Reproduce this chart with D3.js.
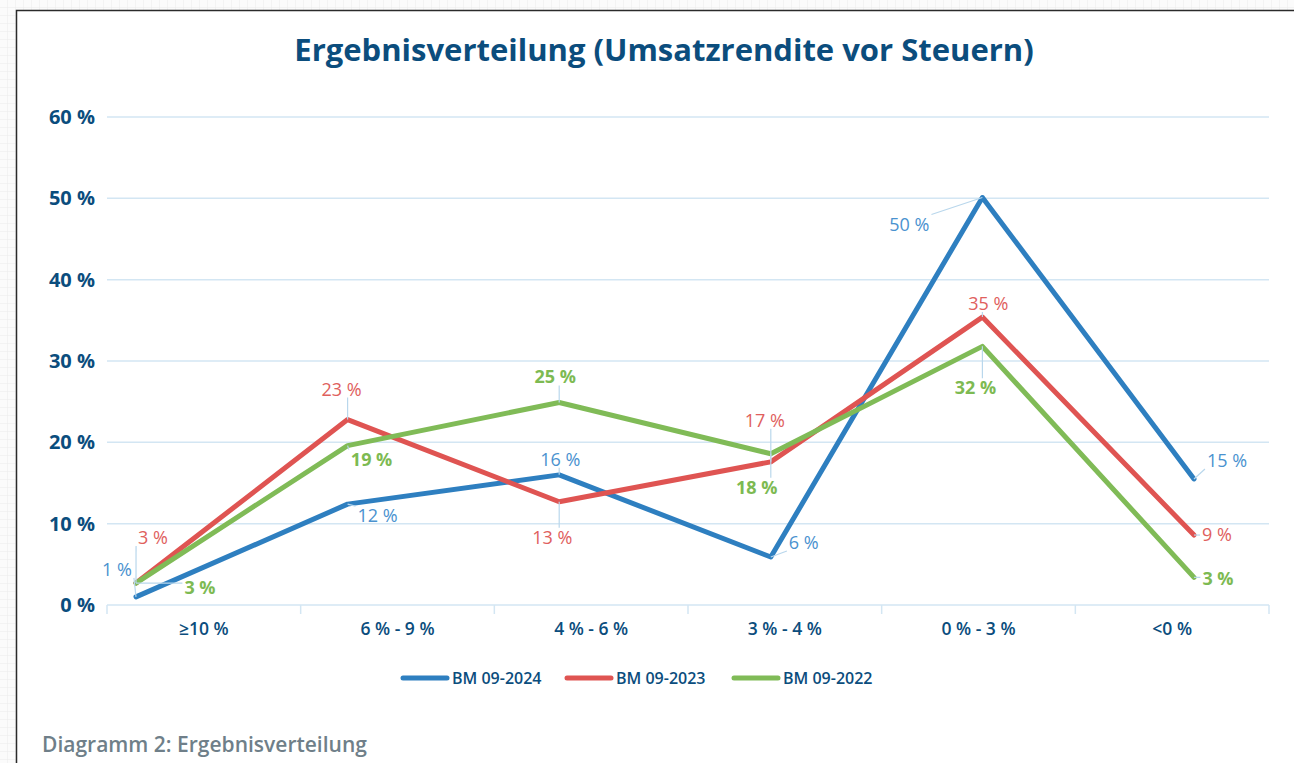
<!DOCTYPE html>
<html>
<head>
<meta charset="utf-8">
<script src="https://cdn.jsdelivr.net/npm/d3@7"></script>
<style>
  html, body { margin: 0; padding: 0; overflow: hidden; }
  body { width: 1294px; height: 763px; font-family: "Open Sans", sans-serif; }
</style>
</head>
<body>
<div id="chart"></div>
<script>
// Daten
const categories = ["≥10 %", "6 % - 9 %", "4 % - 6 %", "3 % - 4 %", "0 % - 3 %", "<0 %"];
const seriesNames = ["BM 09-2024", "BM 09-2023", "BM 09-2022"];
const bm2024 = [1.0, 12.4, 16.0, 5.9, 50.1, 15.5];
const bm2023 = [2.7, 22.8, 12.7, 17.6, 35.4, 8.6];
const bm2022 = [2.7, 19.6, 24.9, 18.6, 31.8, 3.4];
const labels2024 = ["1 %", "12 %", "16 %", "6 %", "50 %", "15 %"];
const labels2023 = ["3 %", "23 %", "13 %", "17 %", "35 %", "9 %"];
const labels2022 = ["3 %", "19 %", "25 %", "18 %", "32 %", "3 %"];
const yTicks = [0, 10, 20, 30, 40, 50, 60];

// Label-Versatz (dx, dy) relativ zum Punkt
const offsets = [
  [[-19, -27], [30, 12], [1, -15], [33, -14], [-73, 27], [33, -18]],
  [[17, -45], [-6, -30], [-7, 36], [-6, -41], [6, -13], [23, 0]],
  [[64, 5], [24, 14], [-4, -25], [-14, 34], [-7, 42], [24, 2]]
];

const colors = ["#2e7fc0", "#df5452", "#80bb57"];
const labelColors = ["#4a92cf", "#e0605d", "#7dba52"];
const labelWeights = [400, 400, 700];

const width = 1294, height = 763;

const svg = d3.select("#chart").append("svg")
  .attr("width", width)
  .attr("height", height);

// Hintergrundmuster
const defs = svg.append("defs");
const pat = defs.append("pattern")
  .attr("id", "grid")
  .attr("width", 8).attr("height", 8)
  .attr("patternUnits", "userSpaceOnUse");
pat.append("rect").attr("width", 8).attr("height", 8).attr("fill", "#fbfbfb");
pat.append("path").attr("d", "M8 0V8M0 8H8").attr("stroke", "#ececec").attr("stroke-width", 1);
svg.append("rect").attr("width", width).attr("height", height).attr("fill", "url(#grid)");

// Rahmen
svg.append("rect")
  .attr("x", 16.5).attr("y", 10.5)
  .attr("width", 1300).attr("height", 800)
  .attr("fill", "#fff")
  .attr("stroke", "#2b2b2b")
  .attr("stroke-width", 1.5);

svg.append("text")
  .attr("x", 664).attr("y", 61)
  .attr("text-anchor", "middle")
  .style("font-size", "31px")
  .style("font-weight", 700)
  .style("fill", "#0b4d7d")
  .text("Ergebnisverteilung (Umsatzrendite vor Steuern)");

const y = d3.scaleLinear().domain([0, 60]).range([605, 117]);
const xBand = d3.scaleBand().domain(categories).range([107, 1269]);
const x = d3.scalePoint().domain(categories).range([136, 1194]);

// Gitterlinien
svg.append("g").selectAll("line")
  .data(yTicks)
  .join("line")
  .attr("x1", 107).attr("x2", 1269)
  .attr("y1", d => y(d)).attr("y2", d => y(d))
  .attr("stroke", "#d3e6f3")
  .attr("stroke-width", 1.5);

svg.append("g").selectAll("text")
  .data(yTicks)
  .join("text")
  .attr("x", 95)
  .attr("y", d => y(d) + 7)
  .attr("text-anchor", "end")
  .style("font-size", "20px")
  .style("font-weight", 700)
  .style("fill", "#0b4d7d")
  .text(d => d + " %");

// x-Achse
const xAxis = svg.append("g")
  .attr("transform", `translate(0, ${y(0)})`)
  .call(d3.axisBottom(xBand).tickSize(0).tickPadding(18));
xAxis.select(".domain").remove();
xAxis.selectAll("text")
  .style("font-family", "Open Sans, sans-serif")
  .style("font-size", "17.5px")
  .style("font-weight", 600)
  .style("fill", "#0b4d7d");

const bounds = categories.map(c => xBand(c)).concat([xBand.range()[1]]);
svg.append("g").selectAll("line")
  .data(bounds)
  .join("line")
  .attr("x1", d => d).attr("x2", d => d)
  .attr("y1", y(0)).attr("y2", y(0) + 9)
  .attr("stroke", "#d3e6f3")
  .attr("stroke-width", 1.5);

const series = [bm2024, bm2023, bm2022];
const seriesLabels = [labels2024, labels2023, labels2022];

const line = d3.line()
  .x((d, i) => x(categories[i]))
  .y(d => y(d));

series.forEach((s, k) => {
  svg.append("path")
    .datum(s)
    .attr("d", line)
    .attr("fill", "none")
    .attr("stroke", colors[k])
    .attr("stroke-width", 5)
    .attr("stroke-linejoin", "round")
    .attr("stroke-linecap", "round");
});

// Datenbeschriftungen mit Verbindungslinien
series.forEach((s, k) => {
  const g = svg.append("g");
  s.forEach((v, i) => {
    const px = x(categories[i]), py = y(v);
    const [dx, dy] = offsets[k][i];
    const lx = px + dx, ly = py + dy;
    const t = g.append("text")
      .attr("x", lx).attr("y", ly + 6)
      .attr("text-anchor", "middle")
      .style("font-size", "18px")
      .style("font-weight", labelWeights[k])
      .style("fill", labelColors[k])
      .text(seriesLabels[k][i]);
    const bb = t.node().getBBox();
    // Verbindungslinie zum nächsten Punkt der Box
    const cx = Math.max(bb.x - 2, Math.min(px, bb.x + bb.width + 2));
    const cy = Math.max(bb.y + 3, Math.min(py, bb.y + bb.height - 3));
    g.insert("line", "text")
      .attr("x1", px).attr("y1", py)
      .attr("x2", cx).attr("y2", cy)
      .attr("stroke", "#b9d7ec")
      .attr("stroke-width", 1.2);
  });
});

// Legende
const legendX = [403, 567, 734];
const legend = svg.append("g");
seriesNames.forEach((n, k) => {
  legend.append("line")
    .attr("x1", legendX[k]).attr("x2", legendX[k] + 44)
    .attr("y1", 678).attr("y2", 678)
    .attr("stroke", colors[k])
    .attr("stroke-width", 5)
    .attr("stroke-linecap", "round");
  legend.append("text")
    .attr("x", legendX[k] + 49).attr("y", 684)
    .style("font-size", "16px")
    .style("font-weight", 600)
    .style("fill", "#0b4d7d")
    .text(n);
});

svg.append("text")
  .attr("x", 42).attr("y", 752)
  .style("font-size", "21px")
  .style("font-weight", 600)
  .style("fill", "#6f7f89")
  .text("Diagramm 2: Ergebnisverteilung");
</script>
</body>
</html>
